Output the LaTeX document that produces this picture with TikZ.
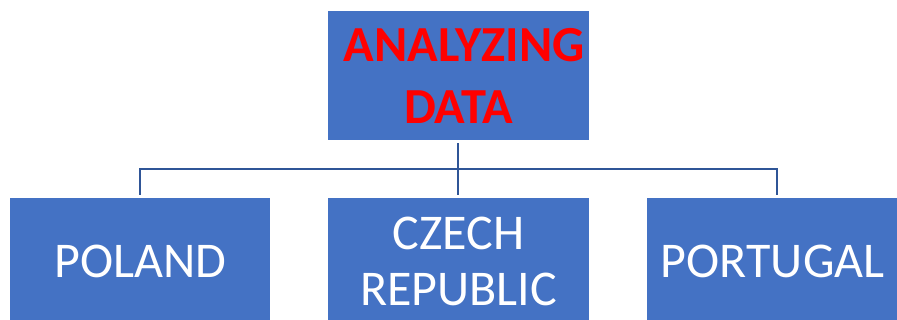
\documentclass[tikz,border=0pt]{standalone}
\usepackage{fontspec}
\setmainfont{Carlito}
\begin{document}
\begin{tikzpicture}[x=1pt,y=-1pt,
  box/.style={fill=boxblue, draw=none, inner sep=0pt, anchor=north west},
  conn/.style={draw=lineblue, line width=2pt}]
\definecolor{boxblue}{HTML}{4472C4}
\definecolor{lineblue}{HTML}{2F5597}
\useasboundingbox (0,0) rectangle (897,320);
\clip (0,0) rectangle (897,320);
\node[box, minimum width=261pt, minimum height=129pt, align=center,
  font=\fontsize{50.5}{62}\selectfont\bfseries, text=red] (top) at (328,11) {\hspace*{11pt}ANALYZING\\DATA};
\node[box, minimum width=260pt, minimum height=126pt, align=center,
  font=\fontsize{50}{56}\selectfont, text=white] (pl) at (10,198) {POLAND};
\node[box, minimum width=261pt, minimum height=126pt, align=center,
  font=\fontsize{50}{56}\selectfont, text=white] (cz) at (328,198) {CZECH\\REPUBLIC};
\node[box, minimum width=251pt, minimum height=126pt, align=center,
  font=\fontsize{50}{56}\selectfont, text=white] (pt) at (647,198) {PORTUGAL};
\coordinate (j) at (458,169);
\coordinate (jl) at (140,169);
\coordinate (jr) at (777,169);
\draw[conn] ([yshift=-3pt]top.south -| j) -- ([yshift=3pt]cz.north -| j);
\draw[conn] ([yshift=3pt]pl.north -| jl) -- (jl) -- (jr) -- ([yshift=3pt]pt.north -| jr);
\end{tikzpicture}
\end{document}
